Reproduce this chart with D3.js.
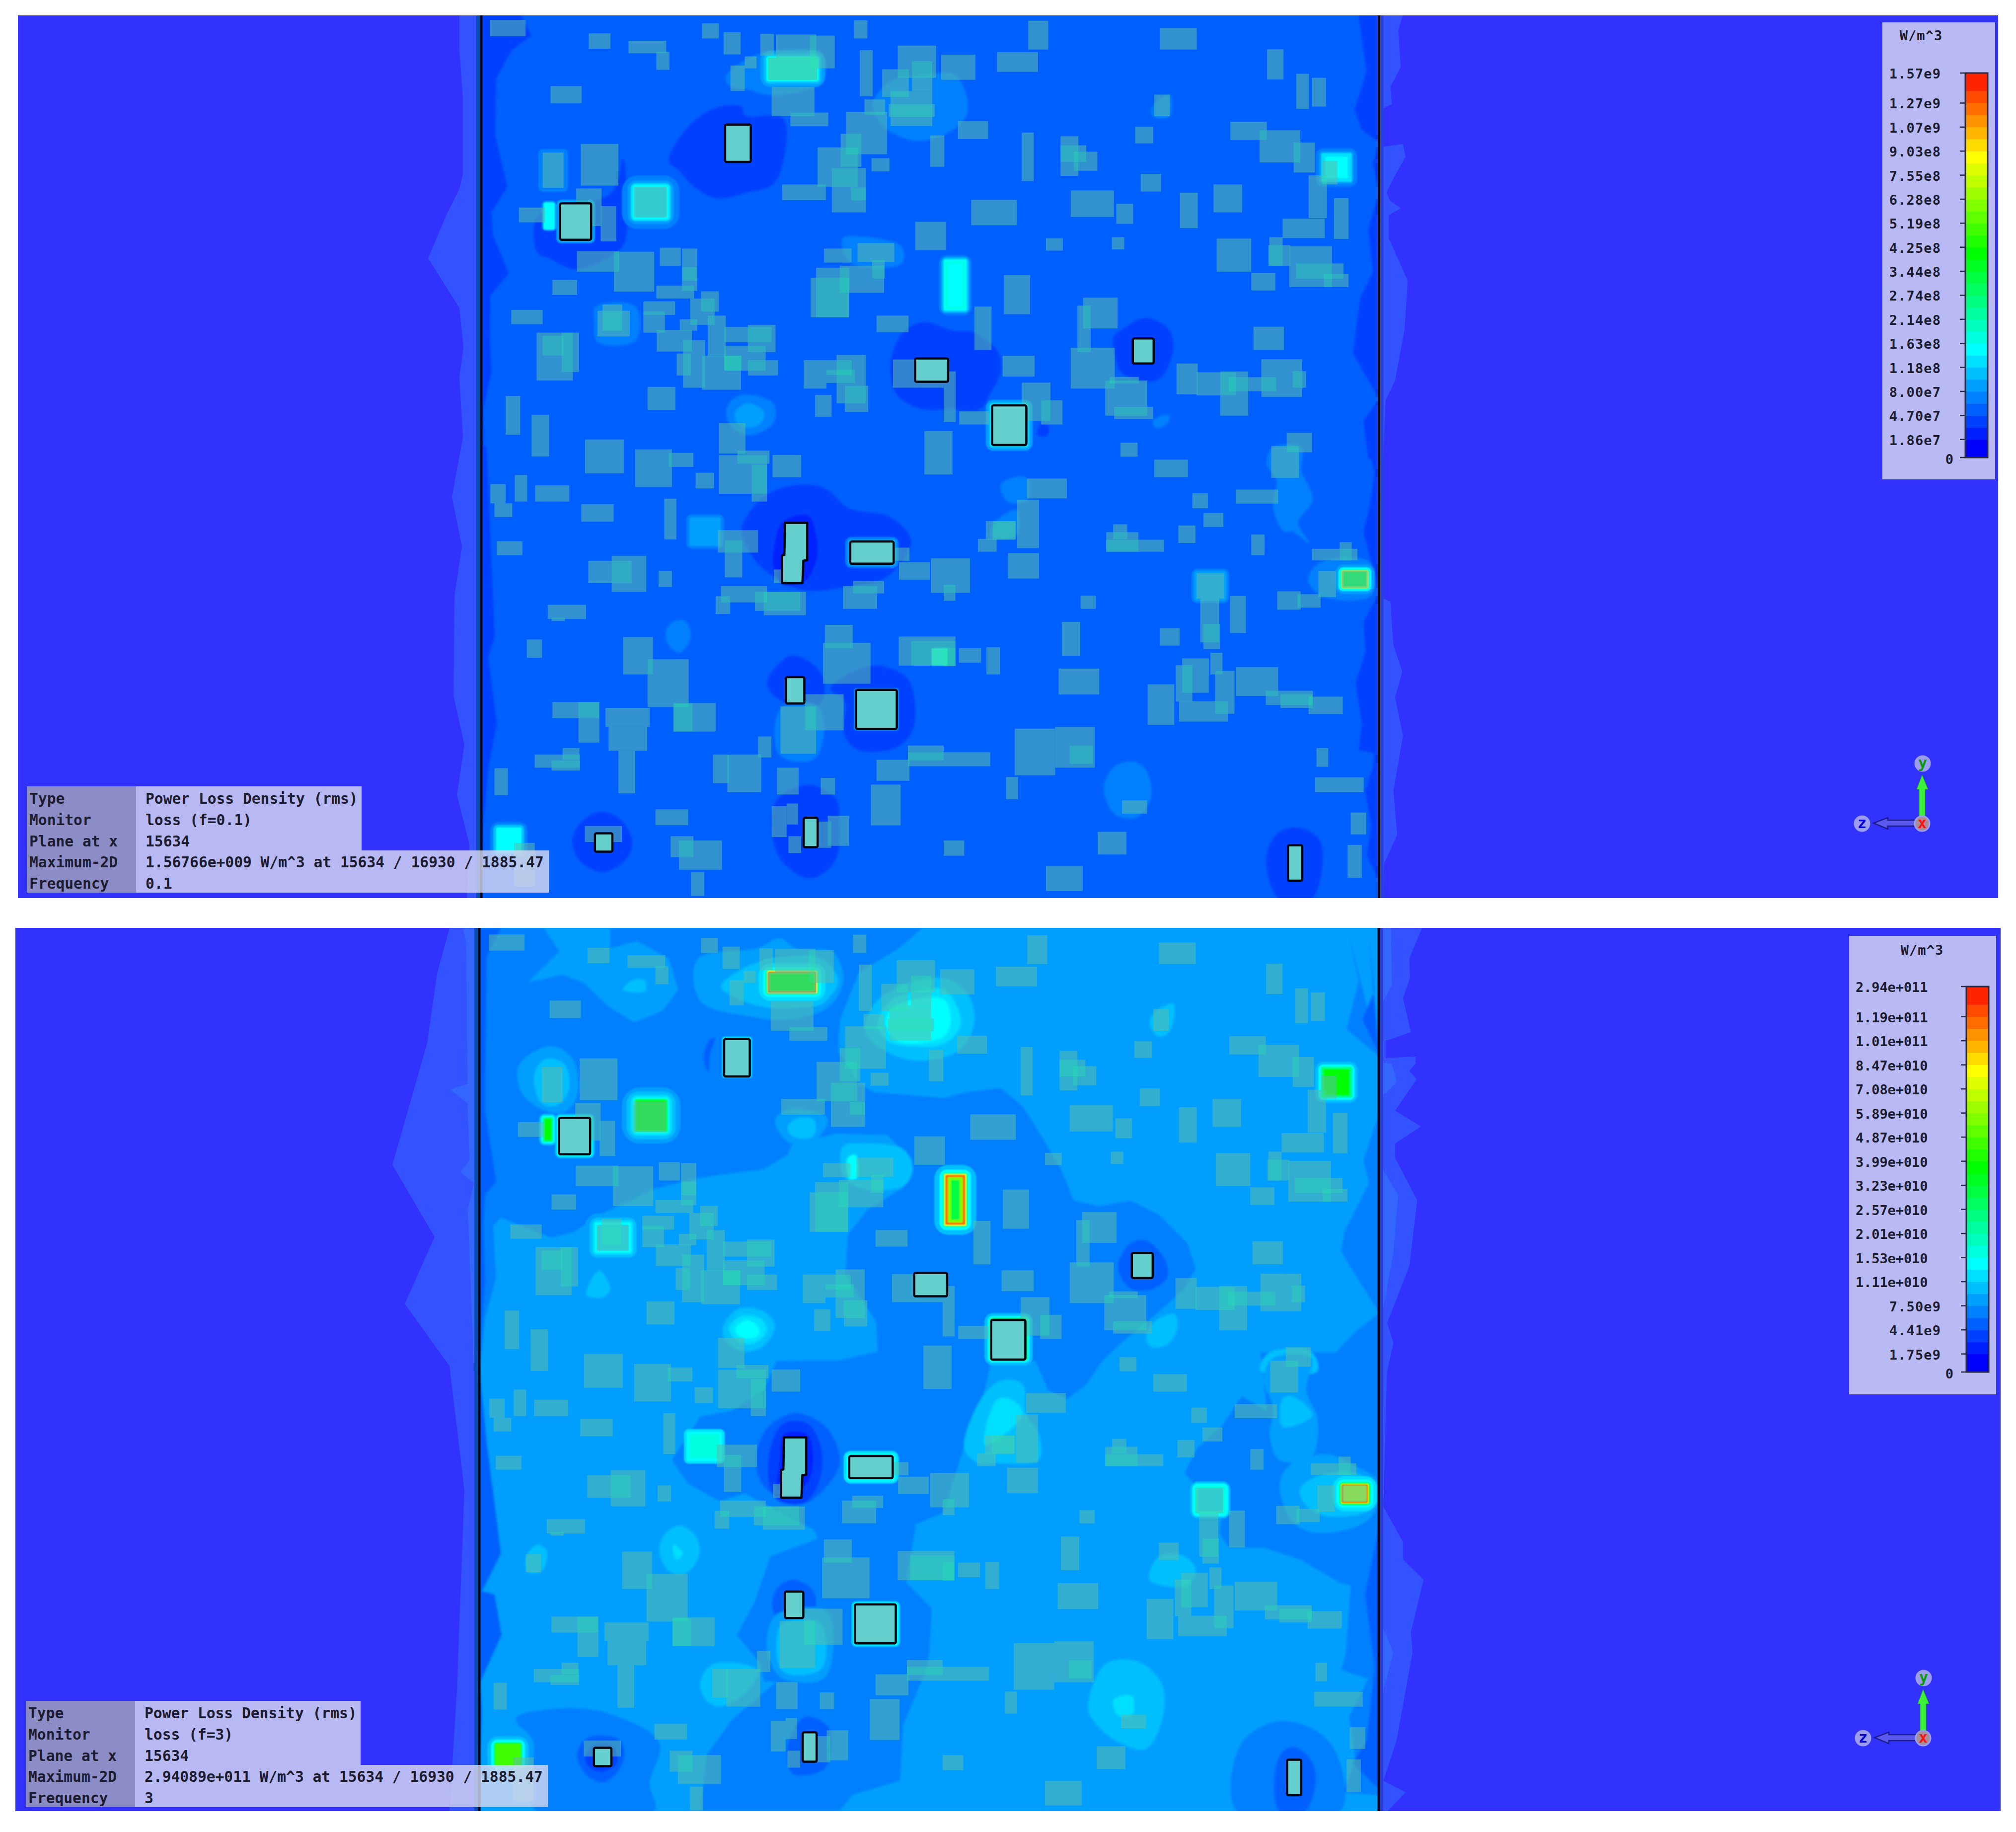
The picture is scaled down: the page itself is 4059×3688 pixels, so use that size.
<!DOCTYPE html>
<html>
<head>
<meta charset="utf-8">
<script src="https://cdn.jsdelivr.net/npm/d3@7"></script>
<style>
body { margin: 0; background: #fff; }
text { font-family: "DejaVu Sans Mono", monospace; font-weight: bold; fill: #1c1c30; }
</style>
</head>
<body>
<div id="plot"></div>
<script>
var rectsNW = [
[135,35,248,92],[447,82,516,136],[573,108,692,152],[661,146,702,210],[805,47,858,100],[873,78,927,156],
[989,84,1032,160],[1038,86,1166,170],[1145,90,1224,205],[940,163,977,205],[895,195,940,284],[1014,168,1168,245],
[1025,270,1160,373],[1084,360,1204,408],[1285,36,1327,100],[1303,141,1344,303],[1423,125,1544,238],[1468,180,1532,285],
[1374,208,1458,305],[1400,285,1532,407],[1395,330,1540,375],[1318,314,1383,368],[1260,357,1389,506],[1525,440,1570,550],
[327,267,425,328],[302,500,368,624],[422,470,541,616],[408,626,488,758],[227,693,310,745],[485,688,534,812],
[590,620,694,728],[410,846,544,918],[527,848,654,988],[672,834,738,898],[742,837,790,985],[743,902,790,950],
[333,947,411,1000],[661,967,780,1012],[802,987,858,1058],[768,1012,845,1105],[620,1022,720,1070],[620,1058,688,1132],
[662,1122,773,1198],[735,1085,790,1125],[823,1072,880,1215],[950,1105,1037,1200],[875,1112,1025,1165],[203,1052,302,1102],
[283,1132,397,1300],[362,1132,417,1270],[302,1143,367,1212],[491,1033,553,1125],[475,1055,577,1145],[745,1158,815,1325],
[725,1205,770,1282],[805,1213,928,1332],[875,1178,1006,1265],[875,1213,930,1265],[950,1228,1045,1282],[1126,1228,1198,1328],
[1198,1262,1288,1308],[1230,1210,1322,1380],[1198,1228,1278,1280],[1256,1318,1330,1410],[633,1322,721,1403],[185,1354,231,1490],
[267,1420,322,1566],[1162,1350,1214,1427],[1340,520,1397,566],[1243,434,1308,550],[1170,482,1298,620],[1215,555,1323,710],
[1275,622,1323,668],[1058,612,1196,667],[1478,743,1575,843],[1190,837,1277,886],[1296,818,1412,885],[1342,878,1382,942],
[1240,897,1380,992],[1165,904,1270,1078],[1148,940,1270,1078],[1356,1072,1457,1130],[1408,1226,1568,1325]
];
var rectsNE = [
[267,38,330,139],[683,63,799,139],[168,148,298,217],[-8,157,100,245],[45,390,140,453],[246,430,284,600],
[369,443,425,582],[369,475,450,533],[411,497,485,564],[665,297,714,373],[605,410,661,468],[905,392,1020,456],
[997,422,1126,535],[1105,465,1172,570],[1021,138,1073,244],[1113,224,1153,347],[1162,238,1207,339],[1195,530,1243,612],
[1152,580,1210,730],[1232,660,1278,803],[1070,732,1203,800],[622,575,686,637],[401,633,537,726],[545,680,598,750],
[746,641,802,765],[852,612,942,710],[87,666,231,755],[323,801,376,844],[531,797,570,840],[862,802,971,918],
[1028,797,1070,898],[1025,825,1094,898],[1091,829,1226,972],[1112,889,1262,942],[1200,927,1278,972],[971,922,1047,984],
[190,930,273,1067],[97,1040,151,1192],[440,1009,549,1117],[422,1037,464,1200],[401,1185,540,1328],[978,1111,1074,1192],
[186,1213,287,1286],[735,1240,802,1348],[798,1271,922,1352],[873,1268,961,1423],[900,1288,1050,1337],[1003,1225,1132,1357],
[1102,1267,1144,1325],[246,1307,337,1442],[308,1369,375,1454],[510,1300,643,1423],[524,1287,616,1310],[538,1392,661,1435],
[49,1408,145,1454],[0,1268,38,1445]
];
var rectsSW = [
[436,-26,558,90],[594,8,710,137],[700,20,778,68],[785,88,843,142],[859,28,1010,160],[962,60,1010,187],[917,12,1018,57],
[1028,27,1118,103],[859,-82,942,22],[1507,-55,1596,94],[214,96,253,187],[137,127,185,193],[150,193,206,240],[278,131,386,187],
[424,196,526,256],[686,177,724,317],[157,323,238,371],[446,390,583,467],[520,373,629,497],[668,425,710,480],[855,285,982,362],
[877,320,932,447],[865,477,1010,533],[848,512,894,573],[972,497,1115,562],[1000,497,1133,577],[1250,477,1358,555],
[1282,460,1380,502],[1410,345,1460,390],[1427,395,1524,455],[1032,420,1075,467],[318,541,439,590],[330,585,372,597],
[252,660,300,723],[556,652,650,780],[633,728,763,892],[333,875,480,930],[415,875,481,1014],[500,895,640,960],[510,960,632,1042],
[541,1042,594,1188],[715,880,775,976],[715,878,848,976],[277,1055,420,1100],[330,1075,420,1110],[365,1033,418,1073],
[150,1102,192,1194],[840,1055,890,1153],[885,1055,992,1184],[982,993,1024,1065],[1042,1100,1110,1192],[1180,1135,1225,1192],
[1356,1073,1460,1145],[1455,1024,1568,1075],[1338,1158,1432,1298],[1426,650,1605,750],[1465,665,1605,750],[1193,610,1281,690],
[1187,672,1337,812],[1130,848,1252,972],[1053,890,1165,1052],[658,1243,761,1297],[706,1335,778,1407],[732,1350,868,1450],
[770,1458,812,1540],[435,1300,552,1355],[1025,1232,1072,1338],[1072,1223,1108,1295],[1078,1335,1118,1393],[1170,1285,1213,1375],
[1202,1265,1270,1368],[212,1358,277,1508]
];
var rectsSE = [
[558,-15,612,33],[665,43,771,103],[263,108,389,176],[232,181,301,347],[133,254,226,318],[155,254,228,316],[108,315,167,359],
[-40,382,83,500],[0,472,37,527],[203,364,301,451],[432,510,480,555],[373,600,431,716],[48,690,118,740],[135,687,178,780],
[0,688,37,752],[363,760,491,849],[224,966,352,1126],[352,960,477,1100],[397,1025,470,1087],[-113,1047,147,1095],[197,1132,235,1208],
[563,1212,642,1258],[486,1320,577,1398],[0,1350,65,1402],[323,1438,439,1523],[785,158,834,210],[922,146,1056,194],[820,226,883,274],
[741,269,795,329],[513,318,696,359],[513,292,615,359],[535,265,580,316],[971,300,1013,371],[1162,349,1306,389],[1250,326,1288,389],
[1183,425,1238,515],[1258,425,1338,482],[1053,495,1127,558],[1117,505,1190,551],[798,433,885,520],[810,520,870,670],[820,607,872,693],
[904,511,954,638],[683,621,745,681],[753,725,837,843],[733,748,785,873],[842,706,880,780],[857,768,918,915],[743,872,897,942],
[644,814,728,953],[922,755,1056,854],[1017,836,1165,885],[1063,848,1165,895],[1152,856,1260,916],[1177,1033,1214,1097],
[1173,1133,1326,1184],[1285,1254,1334,1329],[1275,1365,1320,1478],[1034,-3,1122,106],[1083,-49,1162,18]
];
// outlined parts
var partRects = [
["NW",357,678,455,806],["NW",878,402,959,533],["NW",1478,1222,1582,1304],["NE",153,1387,261,1526],["NE",597,1152,663,1240],
["SW",1273,324,1410,400],["SW",1070,789,1128,880],["SW",1291,833,1420,967],["SW",467,1325,522,1388],["SW",1126,1272,1170,1373],
["SE",1087,1366,1132,1488]
];
var partStepped = ["SW",[1067,260,1137,260,1137,388,1125,390,1122,467,1058,467,1058,372,1065,370]];

// contour bands, [level, crop, x,y,x,y...]
var edgeTop = [
[2,"NW",[100,0,225,0,265,90,205,140,155,240,152,440,190,620,140,710,145,790,195,925,137,1000,135,1140,140,1270,115,1400,118,1568,100,1568]],
[2,"SW",[100,-10,125,0,150,650,130,720,157,950,130,1100,115,1300,112,1560,100,1560]],
[2,"NE",[1307,0,1335,215,1297,350,1320,420,1375,465,1355,540,1375,640,1340,770,1355,920,1315,1010,1292,1205,1375,1365,1325,1440,1340,1575,1375,1575,1375,0]],
[2,"SE",[1340,-5,1360,90,1345,200,1325,290,1350,400,1375,500,1325,600,1332,700,1300,810,1320,950,1310,1040,1360,1050,1355,1100,1330,1180,1350,1300,1335,1400,1375,1490,1375,-5]]
];
var blobTop = [
[2,"NW",[700,530,770,400,860,340,930,340,940,370,1060,380,1065,510,1030,610,950,640,850,660,780,620,730,560]],
[2,"NW",[275,750,300,710,520,640,555,520,565,800,545,840,410,910,320,870,285,850]],
[4,"NW",[880,235,920,190,1000,150,1180,150,1195,230,1160,270,1030,300,950,280,890,265]],
[4,"NW",[1345,320,1400,250,1500,230,1600,225,1640,300,1640,370,1600,420,1490,460,1390,420,1345,350]],
[4,"NW",[470,1040,595,1040,595,1160,475,1165,465,1100]],
[4,"NW",[885,1390,930,1350,1030,1380,1030,1450,950,1492,890,1450]],
[5,"NW",[910,1410,950,1380,1000,1410,990,1450,950,1465,915,1450]],
[4,"NW",[1250,800,1310,795,1435,830,1435,890,1290,895,1255,860]],
[4,"NE",[655,360,665,330,714,297,714,373,670,380]],
[4,"NE",[660,1440,710,1420,710,1445,670,1468]],
[2,"NE",[535,1150,570,1115,640,1080,710,1120,725,1190,680,1295,620,1300,560,1270,540,1210]],
[2,"NW",[1400,1240,1440,1130,1505,1095,1600,1125,1660,1130,1740,1200,1748,1270,1713,1350,1683,1400,1580,1400,1500,1400,1420,1350]],
[2,"NE",[295,1490,305,1455,332,1460,325,1495]],
[2,"SW",[930,280,1000,170,1100,130,1190,140,1270,210,1400,240,1465,320,1440,385,1380,450,1260,480,1120,490,1000,420,950,350]],
[1,"SW",[1035,330,1060,255,1140,235,1165,300,1168,380,1130,460,1060,470,1030,410]],
[2,"SW",[1010,810,1050,740,1090,715,1150,740,1190,800,1180,880,1120,890,1040,860]],
[2,"SW",[1210,830,1340,750,1450,790,1475,860,1470,970,1420,1030,1300,1040,1255,990,1255,870]],
[4,"SW",[1035,960,1060,890,1170,890,1190,980,1160,1070,1080,1075,1045,1050]],
[2,"SW",[395,1350,430,1280,490,1252,550,1280,585,1360,560,1420,490,1458,420,1420]],
[2,"SW",[1025,1250,1060,1190,1150,1160,1230,1210,1238,1260,1225,1420,1145,1480,1050,1410]],
[4,"SW",[690,640,705,605,750,595,770,650,735,705,700,680]],
[2,"SE",[1018,1420,1050,1330,1115,1305,1185,1345,1195,1440,1160,1551,1060,1551]],
[4,"SE",[505,1170,540,1095,605,1080,640,1110,655,1200,610,1270,540,1260]],
[4,"SE",[1020,60,1040,0,1130,0,1130,80,1165,180,1120,260,1155,330,1100,290,1075,290,1040,210,1050,110]],
[4,"SE",[180,130,230,102,265,108,265,180,205,190]],
[4,"SE",[160,260,230,215,232,300,150,310]],
[4,"SE",[1150,450,1190,395,1345,395,1350,510,1200,515,1160,480]]
];
// hot footprints: crop, box, then [grow, level] from outside in
var hotTop = [
["NW",1014,168,1168,245,[[25,5],[14,6],[6,8],[1,10],[-3,9]]],
["NW",592,620,694,728,[[40,4],[22,5],[12,7],[5,8],[-2,7]]],
["NW",310,680,335,765,[[10,5],[5,8]]],
["NW",357,678,455,806,[[12,5],[4,6]]],
["NW",300,500,370,625,[[12,4]]],
["NE",5,880,68,1050,[[20,4],[12,6],[5,8],[-1,9],[-8,8]]],
["NE",1195,505,1285,600,[[20,4],[9,5],[3,7],[-10,8]]],
["NE",153,1387,261,1526,[[20,5],[10,6],[5,8]]],
["SW",770,245,860,335,[[14,4],[4,5]]],
["SW",1273,324,1410,400,[[16,4],[8,5],[3,7]]],
["SW",1291,833,1420,967,[[6,5]]],
["SW",158,1308,232,1385,[[22,4],[12,6],[3,8]]],
["SW",1530,690,1580,750,[[0,8]]],
["SE",1258,425,1338,482,[[22,5],[12,8],[5,12],[1,26],[-2,14]]],
["SE",798,433,885,520,[[16,4],[8,5],[-1,5]]]
];

var edgeBottom = [
[4,"NW",[105,15,305,15,355,95,255,205,365,178,430,205,510,290,590,345,680,305,730,230,700,120,600,60,515,85,515,15,1500,15,1420,90,1300,170,1240,340,1235,450,1300,560,1350,590,1568,610,1638,590,1748,575,1818,640,1858,710,1938,860,1978,970,2058,990,2158,970,2248,1020,2338,1120,2363,1210,2328,1280,2268,1340,2128,1470,2068,1533,2018,1615,1958,1666,1898,1635,1858,1533,1718,1533,1698,1635,1668,1748,1633,1830,1568,2065,1480,2105,1450,2310,1530,2400,1520,2596,1440,2810,1430,3005,1280,3055,1240,3110,800,3110,820,2913,900,2790,1040,2657,1000,2657,990,2596,915,2494,970,2381,1020,2218,1170,2156,1160,2126,940,1998,860,2024,760,1962,710,1880,800,1727,900,1707,1000,1635,1040,1533,1240,1530,1360,1500,1355,1395,1258,1230,1265,1090,1330,1000,1440,925,1470,830,1390,740,1230,735,1090,770,1075,810,1000,860,800,890,650,930,600,960,500,1010,400,1080,330,1100,170,1030,145,1060,155,1240,120,1380,105,1568]],
[3,"NW",[100,15,170,15,125,115,120,650,155,905,120,950,115,1060,120,1250,100,1568]],
[3,"SW",[100,0,125,280,170,660,110,790,150,800,172,940,105,1100,110,1200,100,1543]],
[4,"NE",[1275,15,1310,200,1272,370,1375,465]],
[4,"NE",[1375,660,1325,830,1342,910,1265,1080,1255,1150,1375,1365,1300,1430,1240,1500,1215,1568,1375,1568]],
[4,"SE",[1215,-30,1375,-30,1375,1490,1260,1480,1300,1370,1280,1220,1340,1090,1255,1060,1270,1000,1285,770,1250,760,1125,680,1010,640,900,640,870,590,880,520,790,420,760,385,800,300,880,220,940,120,1020,170,1000,-30]],
[3,"NE",[1340,15,1360,235,1322,335,1375,460]],
[3,"SE",[1375,560,1330,800,1360,1050,1335,1300,1290,1380,1375,1470]]
];
var blobBottom = [
[5,"NW",[790,125,980,85,1050,50,1100,85,1220,100,1250,200,1205,290,1080,335,960,325,800,270]],
[6,"NW",[865,220,920,165,1000,130,1180,120,1235,200,1190,270,1080,295,960,280]],
[5,"NW",[1035,690,1080,650,1200,680,1170,750,1085,770]],
[6,"NW",[1075,710,1110,680,1160,690,1155,745,1090,745]],
[6,"NW",[440,1300,480,1215,515,1280,490,1310]],
[6,"NW",[555,230,590,195,625,200,625,235,590,240]],
[5,"NW",[225,500,280,445,340,430,400,480,410,600,370,660,300,650,235,590]],
[6,"NW",[275,530,310,475,370,490,385,580,350,635,300,630]],
[6,"NW",[1320,380,1350,280,1450,210,1568,190,1640,240,1665,340,1620,440,1500,480,1390,450]],
[7,"NW",[1360,350,1400,270,1480,235,1568,230,1610,290,1620,360,1568,420,1480,430,1390,410]],
[8,"NW",[1385,340,1420,285,1568,265,1590,340,1568,395,1420,410]],
[6,"NW",[870,1420,920,1350,1000,1360,1035,1410,1000,1480,940,1500,885,1470]],
[7,"NW",[890,1420,930,1375,990,1385,1010,1425,980,1465,925,1470]],
[8,"NW",[910,1420,945,1390,980,1410,985,1440,950,1455,920,1445]],
[6,"NW",[1250,780,1320,770,1440,790,1470,860,1440,920,1300,925,1250,880]],
[8,"NW",[1265,820,1290,810,1295,890,1270,895]],
[3,"NW",[810,470,830,405,845,400,830,460,825,520]],
[6,"NE",[650,350,665,310,725,280,715,375,680,395]],
[6,"NE",[1000,1568,1020,1510,1080,1490,1160,1500,1180,1568]],
[6,"NE",[640,1440,670,1390,730,1370,735,1430,700,1480,650,1480]],
[3,"NE",[550,1200,590,1120,640,1110,700,1180,705,1240,660,1280,590,1280]],
[3,"SW",[975,330,1010,230,1100,178,1200,230,1240,350,1190,440,1120,490,1000,430]],
[2,"SW",[1015,330,1060,215,1140,215,1185,320,1165,440,1120,490,1035,470]],
[1,"SW",[1050,340,1065,250,1135,250,1155,320,1135,420,1050,450]],
[3,"SW",[1025,830,1050,770,1095,750,1150,780,1165,830,1130,890,1050,890]],
[5,"SW",[1010,950,1040,870,1200,860,1210,1050,1180,1095,1060,1090,1020,1030]],
[6,"SW",[1040,960,1060,900,1180,900,1190,1040,1160,1070,1060,1065]],
[4,"SW",[220,1220,400,1190,540,1220,670,1310,640,1450,655,1543,280,1543,270,1300,220,1240]],
[3,"SW",[410,1350,440,1295,490,1285,545,1300,560,1355,530,1420,490,1445,440,1420]],
[2,"SW",[435,1360,465,1315,525,1320,535,1380,490,1410,450,1395]],
[3,"SW",[1075,1320,1130,1220,1200,1250,1215,1300,1190,1400,1090,1415]],
[6,"SW",[670,650,690,590,740,565,790,610,795,670,750,730,700,720]],
[7,"SW",[715,660,715,630,745,660,725,680]],
[6,"SW",[800,1100,840,1040,980,1060,950,1130,860,1185,815,1160]],
[6,"SW",[250,670,285,630,315,650,300,720,255,725]],
[5,"SE",[1010,60,1040,-10,1160,-10,1145,100,1180,200,1160,330,1060,340,1030,260,1040,160]],
[6,"SE",[1070,130,1100,120,1165,185,1070,225]],
[4,"SE",[925,1545,935,1320,1035,1240,1130,1245,1220,1310,1265,1450,1250,1545]],
[3,"SE",[1060,1545,1045,1420,1070,1340,1110,1325,1160,1370,1175,1440,1140,1545]],
[6,"SE",[455,1185,510,1040,610,1030,685,1100,695,1200,640,1330,540,1300,470,1230]],
[7,"SE",[535,1165,555,1150,595,1150,595,1215,550,1215]],
[6,"SE",[650,750,680,670,750,665,795,710,770,770]],
[6,"SE",[65,300,130,110,190,65,250,80,260,180,300,250,300,340,170,350,110,350]],
[7,"SE",[170,130,220,135,250,180,205,240,130,290]],
[5,"SE",[1060,430,1090,360,1210,320,1300,360,1375,420,1345,540,1200,590,1110,560]],
[6,"SE",[1125,440,1180,395,1300,385,1360,430,1345,510,1200,530,1140,490]]
];
var hotBottom = [
["NW",1014,168,1165,240,[[50,6],[30,7],[16,8],[8,12],[3,24],[0,30],[-4,16]]],
["NW",597,618,692,725,[[45,5],[30,6],[18,7],[10,8],[5,12],[1,16]]],
["NW",305,680,332,762,[[14,6],[8,8],[3,11],[-2,16]]],
["NW",355,680,452,808,[[14,6],[8,8],[3,10]]],
["NW",470,1050,578,1150,[[35,5],[20,6],[10,7],[3,8],[-5,7]]],
["NW",875,402,956,533,[[8,6],[3,8]]],
["NE",5,880,68,1055,[[35,6],[18,8],[8,12],[3,24],[0,28],[-8,20],[-18,14]]],
["NE",1195,505,1285,605,[[22,6],[12,8],[4,12],[-4,16]]],
["NE",151,1387,259,1526,[[22,6],[12,8],[6,12]]],
["SW",760,245,865,340,[[12,7],[3,8],[-6,9]]],
["SW",1270,326,1408,402,[[18,7],[9,8]]],
["SW",1289,836,1418,968,[[12,7],[5,8]]],
["SW",155,1315,230,1385,[[28,6],[16,8],[7,14],[2,18]]],
["SE",1258,425,1338,485,[[30,7],[18,8],[10,12],[6,16],[3,24],[1,30],[-3,22]]],
["SE",798,433,885,520,[[20,6],[13,8],[4,9],[-5,7]]]
];

// faint bands outside the board
var outerTop = [
[0,"PX",[925,31,925,100,932,200,932,350,925,380,900,430,862,520,925,620,933,700,925,760,932,880,910,1000,930,1100,915,1200,913,1400,935,1500,920,1600,945,1700,940,1808,966,1808,966,31]],
[0,"NE",[1455,0,1435,70,1443,200,1410,270,1415,330,1388,345,1388,480,1450,470,1458,515,1420,590,1398,640,1410,670,1443,695,1405,720,1405,800,1465,950,1455,1120,1425,1300,1395,1370,1388,1568,1380,1568,1380,0]],
[0,"SE",[1380,0,1388,0,1388,520,1410,530,1420,680,1448,770,1425,860,1450,990,1420,1180,1432,1330,1390,1430,1388,1551,1380,1551]]
];
var outerBottom = [
[0,"PX",[905,1868,880,1960,860,2100,790,2345,875,2490,815,2625,905,2750,935,3000,920,3400,905,3647,962,3647,962,1868]],
[1,"NW",[50,15,60,60,65,560,10,580,65,630,70,830,42,870,85,910,65,1000,85,1568,95,1568,95,15]],
[0,"NE",[1510,15,1470,120,1472,190,1450,260,1475,380,1395,410,1395,470,1490,465,1490,490,1470,515,1493,545,1425,655,1507,710,1425,770,1425,820,1495,970,1470,1200,1400,1400,1420,1470,1400,1568,1380,1568,1380,15]],
[1,"NE",[1380,15,1412,15,1415,215,1388,270,1380,270]],
[1,"NE",[1380,485,1415,490,1430,555,1388,600,1380,600]],
[1,"NE",[1380,850,1435,950,1420,1150,1388,1350,1380,1350]],
[0,"SE",[1380,0,1400,0,1388,500,1450,620,1450,680,1515,750,1475,930,1480,1000,1430,1300,1388,1440,1458,1480,1400,1545,1380,1545]],
[1,"SE",[1380,900,1420,1000,1388,1130,1380,1130]]
];

var ticksTop = ["1.57e9","1.27e9","1.07e9","9.03e8","7.55e8","6.28e8","5.19e8","4.25e8","3.44e8","2.74e8","2.14e8","1.63e8","1.18e8","8.00e7","4.70e7","1.86e7","0"];
var ticksBottom = ["2.94e+011","1.19e+011","1.01e+011","8.47e+010","7.08e+010","5.89e+010","4.87e+010","3.99e+010","3.23e+010","2.57e+010","2.01e+010","1.53e+010","1.11e+010","7.50e9","4.41e9","1.75e9","0"];
// where the ticks sit on the 32 step colour table, top to bottom
var tickSteps = [32,29.5,27.5,25.5,23.5,21.5,19.5,17.5,15.5,13.5,11.5,9.5,7.5,5.5,3.5,1.5,0];

var infoLabels = ["Type","Monitor","Plane at x","Maximum-2D","Frequency"];
var infoTop = ["Power Loss Density (rms)","loss (f=0.1)","15634","1.56766e+009 W/m^3 at 15634 / 16930 / 1885.47","0.1"];
var infoBottom = ["Power Loss Density (rms)","loss (f=3)","15634","2.94089e+011 W/m^3 at 15634 / 16930 / 1885.47","3"];

var W = 4059, H = 3688;

var bandColor = d3.scaleLinear()
    .domain([0,8,16,24,31])
    .range(["#0000ff","#00ffff","#00ff00","#ffff00","#ff0000"]);
var outerColor = ["#3352ff","#3366ff"];

function cropScale(ox, oy, h) {
    return {
        x: d3.scaleLinear().domain([0,1568]).range([ox, ox+1000]),
        y: d3.scaleLinear().domain([0,1568]).range([oy, oy+h])
    };
}
var identity = {x: d3.scaleIdentity(), y: d3.scaleIdentity()};

var panels = [
    {x0:36, x1:4023, y0:31, y1:1808, lineL:969, lineR:2776.5, base:3, dx:0, dy:0,
     crops:{NW:cropScale(900,20,900), NE:cropScale(1900,20,900), SW:cropScale(900,900,920), SE:cropScale(1900,900,920), PX:identity},
     edge:edgeTop, blob:blobTop, hot:hotTop, outer:outerTop, ticks:ticksTop, info:infoTop,
     legend:{x0:3790, x1:4017, y0:45, y1:965, barX0:3957, barX1:4002, barTop:147, barBottom:921, titleX:3868, titleY:81}},
    {x0:31, x1:4028, y0:1868, y1:3646, lineL:965, lineR:2776, base:5, dx:-2, dy:1841,
     crops:{NW:cropScale(900,1860,900), NE:cropScale(1900,1860,900), SW:cropScale(900,2740,920), SE:cropScale(1900,2740,920), PX:identity},
     edge:edgeBottom, blob:blobBottom, hot:hotBottom, outer:outerBottom, ticks:ticksBottom, info:infoBottom,
     legend:{x0:3723, x1:4019, y0:1884, y1:2807, barX0:3959, barX1:4004, barTop:1986, barBottom:2762, titleX:3870, titleY:1922}}
];
var topCrops = panels[0].crops;
var footprintSets = [["NW",rectsNW],["NE",rectsNE],["SW",rectsSW],["SE",rectsSE]];

var svg = d3.select("#plot").append("svg")
    .attr("width", W)
    .attr("height", H)
    .style("display", "block");

var defs = svg.append("defs");
defs.append("filter").attr("id", "soft").append("feGaussianBlur").attr("stdDeviation", 2);
defs.append("filter").attr("id", "hotsoft").append("feGaussianBlur").attr("stdDeviation", 1.3);
defs.append("filter").attr("id", "softer").append("feGaussianBlur").attr("stdDeviation", 0.7);

function toPoints(flat) {
    var pts = [];
    for (var i = 0; i < flat.length; i += 2) pts.push([flat[i], flat[i+1]]);
    return pts;
}

function polygon(g, crops, d, color, curve) {
    var c = crops[d[1]];
    var line = d3.line()
        .x(function(p) { return c.x(p[0]); })
        .y(function(p) { return c.y(p[1]); })
        .curve(curve);
    return g.append("path").attr("d", line(toPoints(d[2]))).attr("fill", color);
}

function footprints(g, fill, opacity) {
    footprintSets.forEach(function(set) {
        var c = topCrops[set[0]];
        g.selectAll(null)
            .data(set[1])
            .enter().append("rect")
            .attr("x", function(r) { return c.x(r[0]); })
            .attr("y", function(r) { return c.y(r[1]); })
            .attr("width", function(r) { return c.x(r[2]) - c.x(r[0]); })
            .attr("height", function(r) { return c.y(r[3]) - c.y(r[1]); })
            .attr("fill", fill)
            .attr("fill-opacity", opacity);
    });
}

panels.forEach(function(p, idx) {
    var g = svg.append("g");

    defs.append("clipPath").attr("id", "panel" + idx).append("rect")
        .attr("x", p.x0).attr("y", p.y0).attr("width", p.x1-p.x0).attr("height", p.y1-p.y0);
    defs.append("clipPath").attr("id", "board" + idx).append("rect")
        .attr("x", p.lineL).attr("y", p.y0).attr("width", p.lineR-p.lineL).attr("height", p.y1-p.y0);

    g.append("rect")
        .attr("x", p.x0).attr("y", p.y0).attr("width", p.x1-p.x0).attr("height", p.y1-p.y0)
        .attr("fill", "#3232ff");

    var outer = g.append("g").attr("clip-path", "url(#panel" + idx + ")").attr("filter", "url(#softer)");
    p.outer.forEach(function(d) {
        polygon(outer, p.crops, d, outerColor[d[0]], d3.curveLinearClosed);
    });

    var board = g.append("g").attr("clip-path", "url(#board" + idx + ")");
    board.append("rect")
        .attr("x", p.lineL).attr("y", p.y0).attr("width", p.lineR-p.lineL).attr("height", p.y1-p.y0)
        .attr("fill", bandColor(p.base));

    var field = board.append("g").attr("filter", "url(#soft)");
    p.edge.forEach(function(d) {
        polygon(field, p.crops, d, bandColor(d[0]), d3.curveLinearClosed);
    });
    p.blob.forEach(function(d) {
        polygon(field, p.crops, d, bandColor(d[0]), d3.curveCatmullRomClosed);
    });
    var hot = board.append("g").attr("filter", "url(#hotsoft)");
    p.hot.forEach(function(d) {
        var c = p.crops[d[0]];
        d[5].forEach(function(s) {
            hot.append("rect")
                .attr("x", c.x(d[1]-s[0]))
                .attr("y", c.y(d[2]-s[0]))
                .attr("width", c.x(d[3]+s[0]) - c.x(d[1]-s[0]))
                .attr("height", c.y(d[4]+s[0]) - c.y(d[2]-s[0]))
                .attr("rx", Math.max(s[0]*0.8, 1.5))
                .attr("fill", bandColor(s[1]));
        });
    });

    // translucent footprints, same layout on both boards
    // one flat sheet so overlaps stay the same in red, then a per rect tint that adds up
    var parts = g.append("g").attr("transform", "translate(" + p.dx + "," + p.dy + ")");
    var sheet = parts.append("g").attr("opacity", 0.35).attr("filter", "url(#softer)");
    footprints(sheet, "rgb(150,130,170)", 1);
    var tint = parts.append("g").attr("filter", "url(#softer)");
    footprints(tint, "rgb(40,235,170)", 0.3);

    parts.selectAll(null)
        .data(partRects)
        .enter().append("rect")
        .attr("x", function(r) { return topCrops[r[0]].x(r[1]); })
        .attr("y", function(r) { return topCrops[r[0]].y(r[2]); })
        .attr("width", function(r) { return topCrops[r[0]].x(r[3]) - topCrops[r[0]].x(r[1]); })
        .attr("height", function(r) { return topCrops[r[0]].y(r[4]) - topCrops[r[0]].y(r[2]); })
        .attr("rx", 3)
        .attr("fill", "#64cfcc")
        .attr("stroke", "#050510")
        .attr("stroke-width", 4.5);
    polygon(parts, topCrops, [0, partStepped[0], partStepped[1]], "#64cfcc", d3.curveLinearClosed)
        .attr("stroke", "#050510").attr("stroke-width", 4.5).attr("stroke-linejoin", "round");

    // board edge lines
    g.append("rect").attr("x", p.lineL-10).attr("y", p.y0).attr("width", 8).attr("height", p.y1-p.y0).attr("fill", "#0a4fb0");
    g.append("rect").attr("x", p.lineR+2).attr("y", p.y0).attr("width", 7).attr("height", p.y1-p.y0).attr("fill", "#2a3fd8");
    [p.lineL, p.lineR].forEach(function(x) {
        g.append("line").attr("x1", x).attr("x2", x).attr("y1", p.y0).attr("y2", p.y1)
            .attr("stroke", "#05051a").attr("stroke-width", 5);
    });

    drawLegend(g, p);
    drawInfo(g, p, idx);
    drawTriad(g, idx == 0 ? 0 : 2, idx == 0 ? 0 : 1841);
});

function drawLegend(g, p) {
    var l = p.legend;
    g.append("rect")
        .attr("x", l.x0).attr("y", l.y0).attr("width", l.x1-l.x0).attr("height", l.y1-l.y0)
        .attr("fill", "#b9b9f4");
    g.append("text")
        .attr("x", l.titleX).attr("y", l.titleY)
        .attr("text-anchor", "middle")
        .attr("font-size", 27)
        .attr("letter-spacing", 1)
        .text("W/m^3");

    var y = d3.scaleLinear().domain([0,32]).range([l.barBottom, l.barTop]);
    // colour table: first and last steps are wider
    d3.range(0, 31).forEach(function(i) {
        var lo = i == 0 ? 0 : i + 0.5;
        var hi = i == 30 ? 32 : i + 1.5;
        g.append("rect")
            .attr("x", l.barX0).attr("y", y(hi))
            .attr("width", l.barX1-l.barX0).attr("height", y(lo)-y(hi)+0.5)
            .attr("fill", bandColor(i));
    });
    g.append("rect")
        .attr("x", l.barX0).attr("y", l.barTop)
        .attr("width", l.barX1-l.barX0).attr("height", l.barBottom-l.barTop)
        .attr("fill", "none").attr("stroke", "#2a2a40").attr("stroke-width", 3);

    p.ticks.forEach(function(t, i) {
        var yy = y(tickSteps[i]);
        g.append("line")
            .attr("x1", l.barX0-11).attr("x2", l.barX0)
            .attr("y1", yy).attr("y2", yy)
            .attr("stroke", "#2a2a40").attr("stroke-width", 2.5);
        var txt = g.append("text")
            .attr("y", yy + (t == "0" ? 13 : 11))
            .attr("font-size", 27)
            .text(t);
        if (t == "0") {
            txt.attr("x", 3933).attr("text-anchor", "end");
        } else if (t.length > 6) {
            txt.attr("x", 3736).attr("letter-spacing", -0.1);
        } else {
            txt.attr("x", 3908).attr("text-anchor", "end").attr("letter-spacing", 1.1);
        }
    });
}

function drawInfo(g, p, idx) {
    var dx = idx == 0 ? 0 : -2, dy = idx == 0 ? 0 : 1841;
    var rowY = d3.scaleLinear().domain([0,4]).range([1608+dy, 1779+dy]);
    // value column has a short top part and a long part for the last two rows
    g.append("rect").attr("x", 274+dx).attr("y", 1583+dy).attr("width", 454).attr("height", 129)
        .attr("fill", "rgb(217,217,240)").attr("fill-opacity", 0.8);
    g.append("rect").attr("x", 274+dx).attr("y", 1712+dy).attr("width", 831).attr("height", 85)
        .attr("fill", "rgb(217,217,240)").attr("fill-opacity", 0.8);
    g.append("rect").attr("x", 54+dx).attr("y", 1583+dy).attr("width", 220).attr("height", 214)
        .attr("fill", "rgb(150,150,192)").attr("fill-opacity", 0.9);
    infoLabels.forEach(function(t, i) {
        g.append("text").attr("x", 59+dx).attr("y", rowY(i)+10).attr("font-size", 29.6).text(t);
        g.append("text").attr("x", 293+dx).attr("y", rowY(i)+10).attr("font-size", 29.6).text(p.info[i]);
    });
}

function drawTriad(g, dx, dy) {
    var t = g.append("g").attr("transform", "translate(" + dx + "," + dy + ")");
    // z arrow
    t.append("path").attr("d", "M3772,1657 L3801,1646 L3801,1651 L3856,1651 L3856,1663 L3801,1663 L3801,1669 Z")
        .attr("fill", "#5a5aee").attr("stroke", "#1c1c8a").attr("stroke-width", 2.5);
    // y arrow
    t.append("path").attr("d", "M3870,1560 L3882,1589 L3876,1589 L3876,1645 L3864,1645 L3864,1589 L3859,1589 Z")
        .attr("fill", "#3cf03c").attr("stroke", "#1ca01c").attr("stroke-width", 1);
    [[3871,1537,"y","#0a9a0a","#9c9cf0"],[3749,1658,"z","#0000dd","#9c9cf0"],[3870,1658,"x","#ff1010","#aa8c98"]].forEach(function(b) {
        t.append("circle").attr("cx", b[0]).attr("cy", b[1]).attr("r", 15)
            .attr("fill", b[4]).attr("stroke", "#9c9cf0").attr("stroke-width", 3);
        t.append("text").attr("x", b[0]).attr("y", b[1]+9)
            .attr("text-anchor", "middle")
            .attr("font-size", 30)
            .style("fill", b[3])
            .text(b[2]);
    });
}
</script>
</body>
</html>
